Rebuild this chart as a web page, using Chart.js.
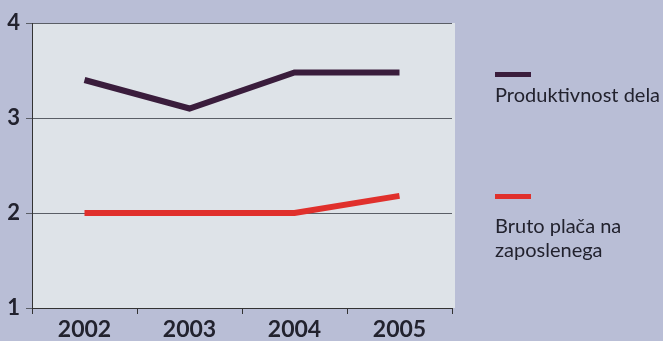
<!DOCTYPE html>
<html>
<head>
<meta charset="utf-8">
<script src="https://cdn.jsdelivr.net/npm/chart.js@4/dist/chart.umd.min.js"></script>
<style>
  html, body { margin: 0; padding: 0; background: #b9bed6; }
  #wrap { position: relative; width: 663px; height: 341px; }
  .leg { position: absolute; left: 495px; font-family: "Lato", "Open Sans", sans-serif; font-size: 20px; line-height: 24px; color: #22222e; }
  .mark { position: absolute; left: 495px; width: 36px; height: 5px; }
</style>
</head>
<body>
<div id="wrap">
  <canvas id="myChart" width="663" height="341"></canvas>
  <div class="mark" style="top:72px;background:#3a1d3c"></div>
  <div class="leg" style="top:82px">Produktivnost dela</div>
  <div class="mark" style="top:194px;background:#e0302c"></div>
  <div class="leg" style="top:213px">Bruto plača na<br>zaposlenega</div>
</div>
<script>
const years = ["2002", "2003", "2004", "2005"];
const productivity = [3.4, 3.1, 3.48, 3.48];
const grossWage = [2.0, 2.0, 2.0, 2.18];
const seriesNames = ["Produktivnost dela", "Bruto plača na zaposlenega"];

const plotBg = {
  id: "plotBg",
  beforeDraw(chart) {
    const {ctx, chartArea: a} = chart;
    ctx.save();
    ctx.fillStyle = "#dee3e8";
    ctx.fillRect(a.left, a.top, a.right - a.left + 3, a.bottom - a.top);
    ctx.restore();
  }
};

const chart = new Chart("myChart", {
  type: "line",
  data: {
    labels: years,
    datasets: [
      {label: seriesNames[0], data: productivity, borderColor: "#3a1d3c", borderWidth: 6, pointRadius: 0, tension: 0},
      {label: seriesNames[1], data: grossWage, borderColor: "#e0302c", borderWidth: 6, pointRadius: 0, tension: 0}
    ]
  },
  options: {
    responsive: false,
    animation: false,
    layout: {padding: {left: 0, right: 211, top: 23, bottom: 0}},
    plugins: {legend: {display: false}, tooltip: {enabled: false}},
    scales: {
      x: {
        offset: true,
        grid: {offset: true, drawOnChartArea: false, drawTicks: true, tickLength: 6, color: "#333", lineWidth: 1},
        border: {display: true, color: "#333", width: 1},
        ticks: {color: "#22222e", font: {family: "Lato", size: 23, weight: "bold"}, padding: 2},
        afterFit: s => { s.height = 33; }
      },
      y: {
        min: 1, max: 4,
        ticks: {stepSize: 1, color: "#22222e", font: {family: "Lato", size: 22, weight: "bold"}, padding: 6},
        grid: {color: "#5a5e66", lineWidth: 1, tickLength: 6},
        border: {display: true, color: "#333", width: 1},
        afterFit: s => { s.width = 32; }
      }
    }
  },
  plugins: [plotBg]
});
</script>
</body>
</html>
